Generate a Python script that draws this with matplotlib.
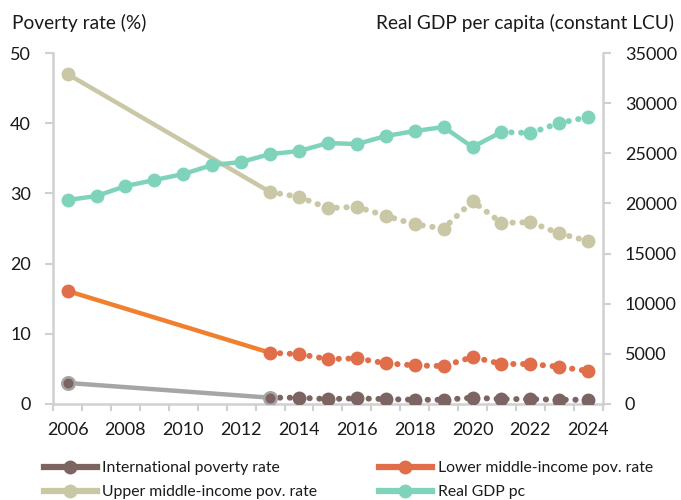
import matplotlib.pyplot as plt
from matplotlib.lines import Line2D

plt.rcParams['font.family'] = ['Lato', 'DejaVu Sans']

years_gdp = list(range(2006, 2025))
gdp_pc = [20340, 20740, 21730, 22330, 22930, 23830, 24130, 24920, 25220, 26020,
          25920, 26720, 27220, 27620, 25620, 27120, 27020, 28020, 28610]
gdp_break = 2021  # projections from here on

years_pov = [2006] + list(range(2013, 2025))
intl_pov = [3.0, 0.9, 0.9, 0.7, 0.8, 0.7, 0.6, 0.6, 0.9, 0.7, 0.7, 0.6, 0.6]
lmic_pov = [16.1, 7.3, 7.1, 6.4, 6.5, 5.8, 5.5, 5.4, 6.7, 5.7, 5.7, 5.3, 4.7]
umic_pov = [47.0, 30.2, 29.5, 27.9, 28.1, 26.8, 25.6, 25.0, 28.9, 25.8, 25.9, 24.3, 23.2]

c_brown = '#7B6461'
c_gray = '#A6A6A6'
c_tan = '#C9C7A6'
c_orange = '#E06E4B'
c_orange_line = '#F07F2E'
c_teal = '#7ED3BA'
c_axis = '#D0D0D0'
c_text = '#1A1A1A'

fig = plt.figure(figsize=(6.81, 5), dpi=100)
ax = fig.add_axes([0.078, 0.192, 0.807, 0.702])
ax2 = ax.twinx()

dot_style = dict(linestyle=(0, (0.05, 1.6)), linewidth=4.3, dash_capstyle='round')
msize = 10


def draw(a, xs, ys, col, line_col, edge=None):
    # solid part: first two points, dotted afterwards
    a.plot(xs[:2], ys[:2], color=line_col, linewidth=3.2, solid_capstyle='round', zorder=2)
    a.plot(xs[1:], ys[1:], color=col, **dot_style, zorder=2)
    a.plot(xs[2:], ys[2:], 'o', color=col, markersize=msize, markeredgewidth=0, zorder=3)
    if edge:
        a.plot(xs[:2], ys[:2], 'o', color=col, markersize=msize - 1, markeredgecolor=edge,
               markeredgewidth=1.8, zorder=3)
    else:
        a.plot(xs[:2], ys[:2], 'o', color=col, markersize=msize, markeredgewidth=0, zorder=3)


draw(ax, years_pov, umic_pov, c_tan, c_tan)
draw(ax, years_pov, lmic_pov, c_orange, c_orange_line)
draw(ax, years_pov, intl_pov, c_brown, c_gray, edge=c_gray)

k = years_gdp.index(gdp_break)
ax2.plot(years_gdp[:k + 1], gdp_pc[:k + 1], color=c_teal, linewidth=3.2, zorder=2)
ax2.plot(years_gdp[k:], gdp_pc[k:], color=c_teal, **dot_style, zorder=2)
ax2.plot(years_gdp, gdp_pc, 'o', color=c_teal, markersize=msize, markeredgewidth=0, zorder=3)

ax.set_xlim(2005.5, 2024.5)
ax.set_ylim(0, 50)
ax2.set_ylim(0, 35000)
ax.set_yticks(range(0, 51, 10))
ax2.set_yticks(range(0, 35001, 5000))
ax.set_xticks(range(2006, 2025, 2))
ax.set_xticks([y - 0.5 for y in range(2006, 2026)], minor=True)
ax.tick_params(axis='x', which='major', length=0, pad=13, labelsize=13, labelcolor=c_text)
ax.tick_params(axis='x', which='minor', length=5, width=1.5, color=c_axis)
ax.tick_params(axis='y', length=6, width=1.5, color=c_axis, pad=10, labelsize=13,
               labelcolor=c_text)
ax2.tick_params(axis='y', length=6, width=1.5, color=c_axis, pad=10, labelsize=13,
                labelcolor=c_text)

for a in (ax, ax2):
    a.spines['top'].set_visible(False)
    for s in ('left', 'right', 'bottom'):
        a.spines[s].set_color(c_axis)
        a.spines[s].set_linewidth(1.8)
ax.spines['right'].set_visible(False)
ax2.spines['left'].set_visible(False)
ax2.spines['bottom'].set_visible(False)

fig.text(0.018, 0.955, 'Poverty rate (%)', fontsize=13.8, color=c_text, va='center')
fig.text(0.99, 0.955, 'Real GDP per capita (constant LCU)', fontsize=13.8, color=c_text,
         va='center', ha='right')


def handle(col):
    return Line2D([], [], color=col, linewidth=4.5, marker='o', markersize=msize,
                  markeredgewidth=0)


# legend fills column by column
handles = [handle(c_brown), handle(c_tan), handle(c_orange), handle(c_teal)]
labels = ['International poverty rate', 'Upper middle-income pov. rate',
          'Lower middle-income pov. rate', 'Real GDP pc']
fig.legend(handles, labels, loc='upper left', bbox_to_anchor=(0.064, 0.078), ncol=2,
           frameon=False, fontsize=11.3, handlelength=3.4, handletextpad=0.35,
           columnspacing=3.9, labelspacing=0.65, borderaxespad=0, borderpad=0,
           labelcolor=c_text)

fig.savefig('out.png', dpi=100)
